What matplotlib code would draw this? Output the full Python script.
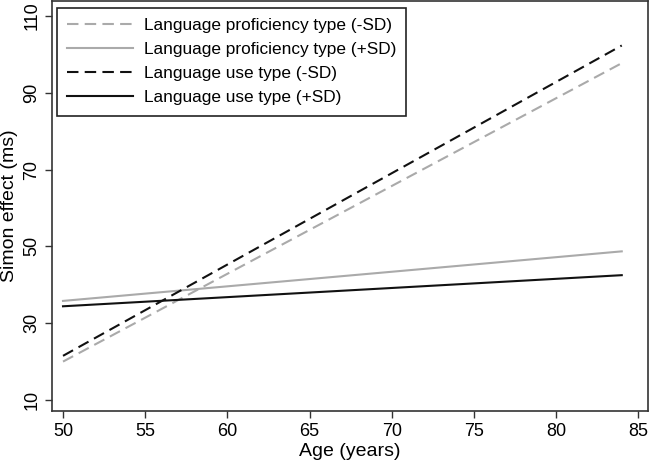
import matplotlib.pyplot as plt

plt.rcParams['font.family'] = ['Liberation Sans', 'DejaVu Sans']

# ages at both ends of each fitted line
ages = [50, 84]

prof_minus_sd = [20.0, 97.7]
prof_plus_sd = [35.8, 48.7]
use_minus_sd = [21.5, 102.3]
use_plus_sd = [34.4, 42.5]

labels = [
    'Language proficiency type (-SD)',
    'Language proficiency type (+SD)',
    'Language use type (-SD)',
    'Language use type (+SD)',
]

x_ticks = [50, 55, 60, 65, 70, 75, 80, 85]
y_ticks = [10, 30, 50, 70, 90, 110]

gray = '#aaaaaa'
dash = (0, (5.5, 3))

fig = plt.figure(figsize=(6.5, 4.63), dpi=100)
ax = fig.add_axes([0.08, 0.112, 0.917, 0.886])

ax.plot(ages, prof_minus_sd, color=gray, lw=1.5, linestyle=dash, label=labels[0])
ax.plot(ages, prof_plus_sd, color=gray, lw=1.5, label=labels[1])
ax.plot(ages, use_minus_sd, color='#111111', lw=1.5, linestyle=dash, label=labels[2])
ax.plot(ages, use_plus_sd, color='#111111', lw=1.5, label=labels[3])

ax.set_xlim(49.33, 85.6)
ax.set_ylim(7.1, 113.9)
ax.set_xticks(x_ticks)
ax.set_yticks(y_ticks)
ax.tick_params(axis='both', labelsize=13, length=5, width=1, color='#333333')
for lbl in ax.get_yticklabels():
    lbl.set_rotation(90)
    lbl.set_va('center')

ax.set_xlabel('Age (years)', fontsize=14, labelpad=2)
ax.set_ylabel('Simon effect (ms)', fontsize=14, labelpad=4)

for s in ax.spines.values():
    s.set_color('#333333')
    s.set_linewidth(1.2)

leg = ax.legend(loc='upper left', fontsize=12.4, frameon=True, fancybox=False,
                handlelength=3.8, handletextpad=0.65, borderpad=0.6,
                labelspacing=0.52, borderaxespad=0, bbox_to_anchor=(0.008, 0.983))
leg.get_frame().set_edgecolor('#222222')
leg.get_frame().set_linewidth(1.2)
leg.get_frame().set_alpha(1)

fig.savefig('out.png', dpi=100)
